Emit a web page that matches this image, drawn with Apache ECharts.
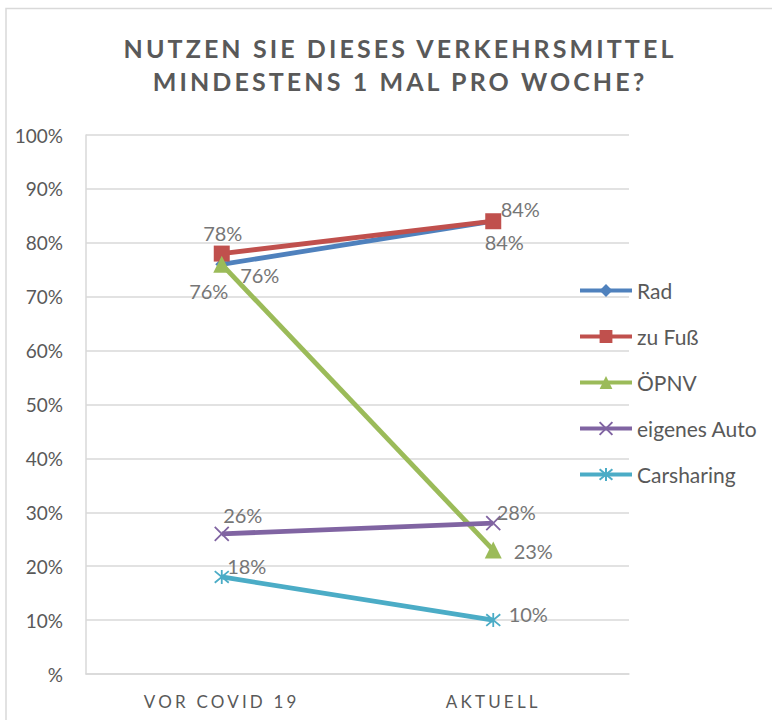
<!DOCTYPE html>
<html><head><meta charset="utf-8">
<script src="https://cdn.jsdelivr.net/npm/echarts@6/dist/echarts.min.js"></script>
<style>
html,body{margin:0;padding:0;background:#fff;}
#c{width:772px;height:720px;}
#c text[style*="tsp"]{letter-spacing:3.1px;}
#c text[style*="xsp"]{letter-spacing:3.2px;}
</style></head><body><div id="c"></div>
<script>
// ---- data ----
const categories = ['VOR COVID 19', 'AKTUELL'];
const seriesNames = ['Rad', 'zu Fuß', 'ÖPNV', 'eigenes Auto', 'Carsharing'];
const rad = [76, 84];
const zuFuss = [78, 84];
const oepnv = [76, 23];
const eigenesAuto = [26, 28];
const carsharing = [18, 10];
const yTickLabels = ['%', '10%', '20%', '30%', '40%', '50%', '60%', '70%', '80%', '90%', '100%'];
const titleText = 'NUTZEN SIE DIESES VERKEHRSMITTEL\nMINDESTENS 1 MAL PRO WOCHE?';

// ---- styles ----
const colors = ['#4F81BD', '#C0504D', '#9BBB59', '#8064A2', '#4BACC6'];
const symbols = ['diamond', 'rect', 'triangle', 'path://M0,0L10,10M10,0L0,10', 'path://M0,0L10,10M10,0L0,10M5,-1L5,11'];
const symbolSizes = [13, 16, 17, 14, 14];
const labelOffsets = [
  [[38, 11], [11, 21]],
  [[1, -21], [27, -12]],
  [[-13, 27], [40, 1]],
  [[21, -19], [23, -11]],
  [[25, -11], [35, -6]]
];
const valuesList = [rad, zuFuss, oepnv, eigenesAuto, carsharing];

const chart = echarts.init(document.getElementById('c'), null, {renderer: 'svg'});
const series = valuesList.map((vals, i) => ({
  name: seriesNames[i],
  type: 'line',
  data: vals.map((v, j) => ({
    value: v,
    label: {offset: labelOffsets[i][j]}
  })),
  symbol: symbols[i],
  symbolSize: symbolSizes[i],
  showAllSymbol: true,
  z: 2 + i,
  lineStyle: {color: colors[i], width: 4.8},
  itemStyle: {color: colors[i], borderColor: colors[i], borderWidth: (i >= 3 ? 1.8 : 0)},
  label: {
    show: true,
    position: 'inside',
    align: 'center',
    verticalAlign: 'middle',
    formatter: p => p.value + '%',
    color: '#767676',
    fontFamily: 'Lato',
    fontSize: 20
  },
  emphasis: {disabled: true},
  animation: false
}));

chart.setOption({
  backgroundColor: '#ffffff',
  animation: false,
  title: {
    text: titleText,
    left: 395,
    top: 26,
    textAlign: 'center',
    textStyle: {
      fontFamily: 'Lato, tsp',
      fontWeight: 'bold',
      fontSize: 25,
      lineHeight: 33,
      color: '#595959'
    }
  },
  grid: {left: 86, right: 143, top: 135, bottom: 46, containLabel: false},
  legend: {
    orient: 'vertical',
    left: 578,
    top: 280,
    padding: 0,
    itemWidth: 52,
    itemHeight: 16,
    itemGap: 25,
    lineStyle: {width: 4},
    textStyle: {fontFamily: 'Lato', fontSize: 21, color: '#595959', lineHeight: 20},
    data: seriesNames
  },
  xAxis: {
    type: 'category',
    data: categories,
    boundaryGap: true,
    axisLine: {show: true, lineStyle: {color: '#d9d9d9', width: 1.5}},
    axisTick: {show: false},
    axisLabel: {fontFamily: 'Lato, xsp', fontSize: 17, color: '#595959', margin: 19}
  },
  yAxis: {
    type: 'value',
    min: 0,
    max: 100,
    interval: 10,
    axisLine: {show: true, lineStyle: {color: '#d9d9d9', width: 1.5}},
    axisTick: {show: false},
    splitLine: {lineStyle: {color: '#d9d9d9', width: 1.5}},
    axisLabel: {
      fontFamily: 'Lato', fontSize: 19, color: '#595959', margin: 23,
      formatter: v => yTickLabels[Math.round(v / 10)]
    }
  },
  graphic: [{
    type: 'rect',
    shape: {x: 6, y: 8.5, width: 900, height: 900},
    style: {fill: 'none', stroke: '#d9d9d9', lineWidth: 1.5},
    silent: true, z: -10
  }],
  series: series
});
</script></body></html>
